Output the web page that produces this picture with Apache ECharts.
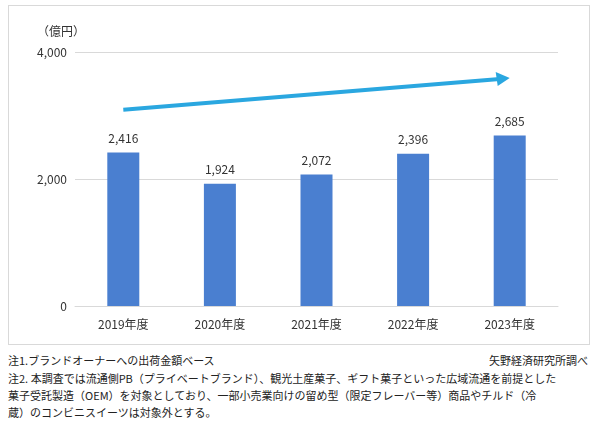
<!DOCTYPE html>
<html><head><meta charset="utf-8">
<script src="https://cdn.jsdelivr.net/npm/echarts@6/dist/echarts.min.js"></script>
<style>
body{margin:0;background:#fff;font-family:"Noto Sans CJK JP",sans-serif;}
#frame{position:absolute;left:8px;top:5px;width:582px;height:340px;border:1px solid #d9d9d9;box-sizing:border-box;}
#c{position:absolute;left:0;top:0;width:600px;height:350px;}
.n{position:absolute;font-size:11px;color:#222;line-height:17px;white-space:nowrap;}
</style></head><body>
<div id="frame"></div>
<div id="c"></div>
<div class="n" style="left:8px;top:352px;">注1.ブランドオーナーへの出荷金額ベース</div>
<div class="n" style="right:12px;top:352px;">矢野経済研究所調べ</div>
<div class="n" style="left:8px;top:370px;">注2. 本調査では流通側PB（プライベートブランド）、観光土産菓子、ギフト菓子といった広域流通を前提とした<br>菓子受託製造（OEM）を対象としており、一部小売業向けの留め型（限定フレーバー等）商品やチルド（冷<br>蔵）のコンビニスイーツは対象外とする。</div>
<script>
const categories=["2019年度","2020年度","2021年度","2022年度","2023年度"];
const values=[2416,1924,2072,2396,2685];
const yTicks=[0,2000,4000];
const arrowFrom=[-0.12,3090], arrowTo=[3.88,3590];
const chart=echarts.init(document.getElementById('c'));
chart.setOption({
 animation:false,
 textStyle:{fontFamily:"Noto Sans CJK JP"},
 grid:{left:75,right:42,top:52,bottom:44},
 title:{text:"（億円）",left:32,top:20,textStyle:{fontSize:12,fontWeight:'normal',color:'#333'}},
 xAxis:{type:'category',data:categories,axisTick:{show:false},axisLine:{lineStyle:{color:'#d9d9d9'}},axisLabel:{color:'#333',fontSize:12,margin:12}},
 yAxis:{type:'value',min:0,max:4000,interval:2000,axisLabel:{color:'#333',fontSize:12,formatter:v=>v.toLocaleString('en-US')},splitLine:{lineStyle:{color:'#d9d9d9'}}},
 series:[{type:'bar',data:values,barWidth:32,itemStyle:{color:'#4a7fd0'},
  label:{show:true,position:'top',distance:8,color:'#333',fontSize:12,formatter:p=>p.value.toLocaleString('en-US')}}]
});
const p1=chart.convertToPixel({gridIndex:0},arrowFrom), p2=chart.convertToPixel({gridIndex:0},arrowTo);
chart.setOption({graphic:[{type:'line',shape:{x1:p1[0],y1:p1[1],x2:p2[0]-10,y2:p2[1]+1},style:{stroke:'#2aa7e0',lineWidth:4}},
 {type:'polygon',shape:{points:[[p2[0],p2[1]],[p2[0]-14,p2[1]-6],[p2[0]-12,p2[1]+8]]},style:{fill:'#2aa7e0'}}]});
</script></body></html>
